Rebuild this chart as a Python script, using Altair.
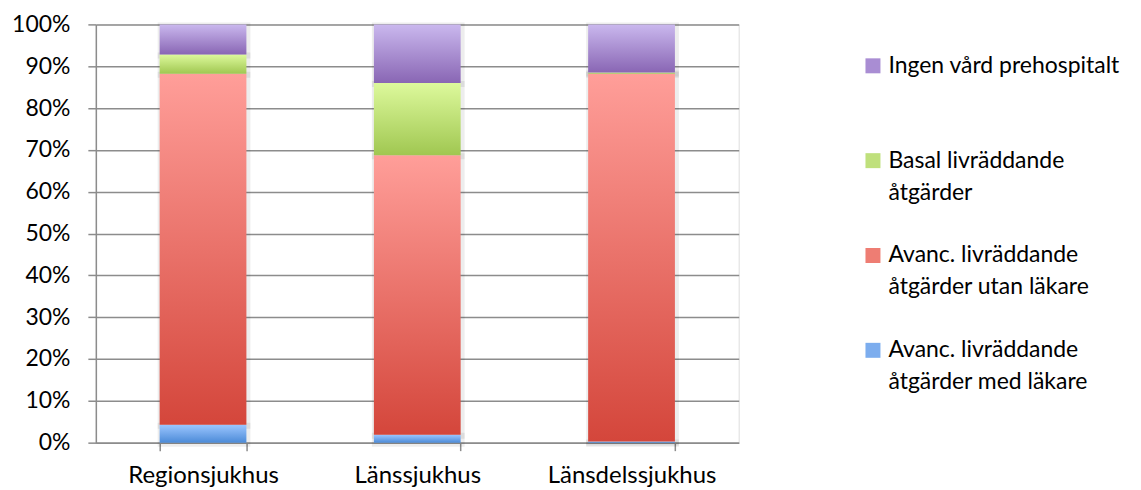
import json
import altair as alt
import pandas as pd

categories = ["Regionsjukhus", "Länssjukhus", "Länsdelssjukhus"]
series = [
    "Avanc. livräddande åtgärder med läkare",
    "Avanc. livräddande åtgärder utan läkare",
    "Basal livräddande åtgärder",
    "Ingen vård prehospitalt",
]
# percentages per category, in stacking order (bottom -> top)
med_lakare = [4.3, 1.9, 0.3]
utan_lakare = [83.9, 66.8, 87.9]
basal = [4.6, 17.3, 0.3]
ingen = [7.2, 14.0, 11.5]
y_ticks = list(range(0, 101, 10))

legend_order = [series[3], series[2], series[1], series[0]]
legend_lines = {
    series[3]: ["Ingen vård prehospitalt", ""],
    series[2]: ["Basal livräddande", "åtgärder"],
    series[1]: ["Avanc. livräddande", "åtgärder utan läkare"],
    series[0]: ["Avanc. livräddande", "åtgärder med läkare"],
}
legend_colors = ["#A98DD3", "#BFE07C", "#EE7D73", "#7CADEE"]

gradients = {
    series[0]: ("#9CC6FF", "#4C8BD8"),
    series[1]: ("#FF9E99", "#D4463B"),
    series[2]: ("#DDF99C", "#A0C751"),
    series[3]: ("#CAB8EE", "#8966B4"),
}


def grad(top, bottom):
    return {
        "gradient": "linear",
        "x1": 0, "y1": 0, "x2": 0, "y2": 1,
        "stops": [{"offset": 0, "color": top}, {"offset": 1, "color": bottom}],
    }


rows = []
for vals, s in zip([med_lakare, utan_lakare, basal, ingen], series):
    for c, v in zip(categories, vals):
        rows.append({"cat": c, "series": s, "value": v, "ord": series.index(s)})
df = pd.DataFrame(rows)

FONT = "Lato"
GRID = "#8c8c8c"

fill_def = {
    "condition": [
        {"test": f"datum.series == {json.dumps(s, ensure_ascii=False)}", "value": grad(*gradients[s])}
        for s in series[:3]
    ],
    "value": grad(*gradients[series[3]]),
}

label_expr = ""
for s in legend_order[:-1]:
    label_expr += f"datum.label == {json.dumps(s, ensure_ascii=False)} ? {json.dumps(legend_lines[s], ensure_ascii=False)} : "
label_expr += json.dumps(legend_lines[legend_order[-1]], ensure_ascii=False)

x_enc = alt.X(
    "cat:N",
    sort=categories,
    scale=alt.Scale(paddingInner=0.595, paddingOuter=0.2977),
    axis=alt.Axis(
        title=None, labelAngle=0, labelFont=FONT, labelFontSize=24, labelColor="#000000",
        domainColor=GRID, domainWidth=1.5, tickColor=GRID, tickWidth=1.5, tickSize=8,
        tickBand="extent", labelPadding=13, grid=False,
    ),
)
y_enc = alt.Y(
    "value:Q",
    stack="zero",
    scale=alt.Scale(domain=[0, 100], nice=False),
    axis=alt.Axis(
        title=None, values=y_ticks, labelExpr="datum.value + '%'",
        labelFont=FONT, labelFontSize=23, labelColor="#000000",
        grid=True, gridColor=GRID, gridWidth=1.5,
        domainColor=GRID, domainWidth=1.5, tickColor=GRID, tickWidth=1.5, tickSize=8,
        labelPadding=18,
    ),
)

# soft shadow halo behind the bars
shadow = alt.Chart(df).mark_bar(
    fill="transparent", stroke="#000000", strokeOpacity=0.07, strokeWidth=6, xOffset=1, yOffset=1
).encode(
    x=x_enc,
    y=y_enc,
    detail="series:N",
    order=alt.Order("ord:Q", sort="ascending"),
)

bars = alt.Chart(df).mark_bar().encode(
    x=x_enc,
    y=y_enc,
    detail="series:N",
    fill=fill_def,
    order=alt.Order("ord:Q", sort="ascending"),
)

legend_layer = alt.Chart(df).mark_bar(opacity=0).encode(
    x=alt.X("cat:N", sort=categories),
    y=alt.Y("value:Q", stack="zero"),
    color=alt.Color(
        "series:N",
        scale=alt.Scale(domain=legend_order, range=legend_colors),
        legend=alt.Legend(
            title=None, orient="none", legendX=767, legendY=30,
            symbolType="square", symbolSize=225, symbolOpacity=1, symbolStrokeWidth=0,
            labelFont=FONT, labelFontSize=23, labelColor="#000000",
            labelBaseline="middle", labelExpr=label_expr,
            labelLimit=500, rowPadding=39, labelOffset=4,
        ),
    ),
    order=alt.Order("ord:Q", sort="ascending"),
)

chart = alt.layer(shadow, bars, legend_layer).properties(
    width=644,
    height=419,
    autosize=alt.AutoSizeParams(type="none"),
    padding={"left": 88, "top": 16, "right": 395, "bottom": 45},
).configure_view(stroke=None).configure(
    style={"guide-label": {"lineHeight": 32}}
)

chart.save("out.html", embed_options={"renderer": "svg", "actions": False})
